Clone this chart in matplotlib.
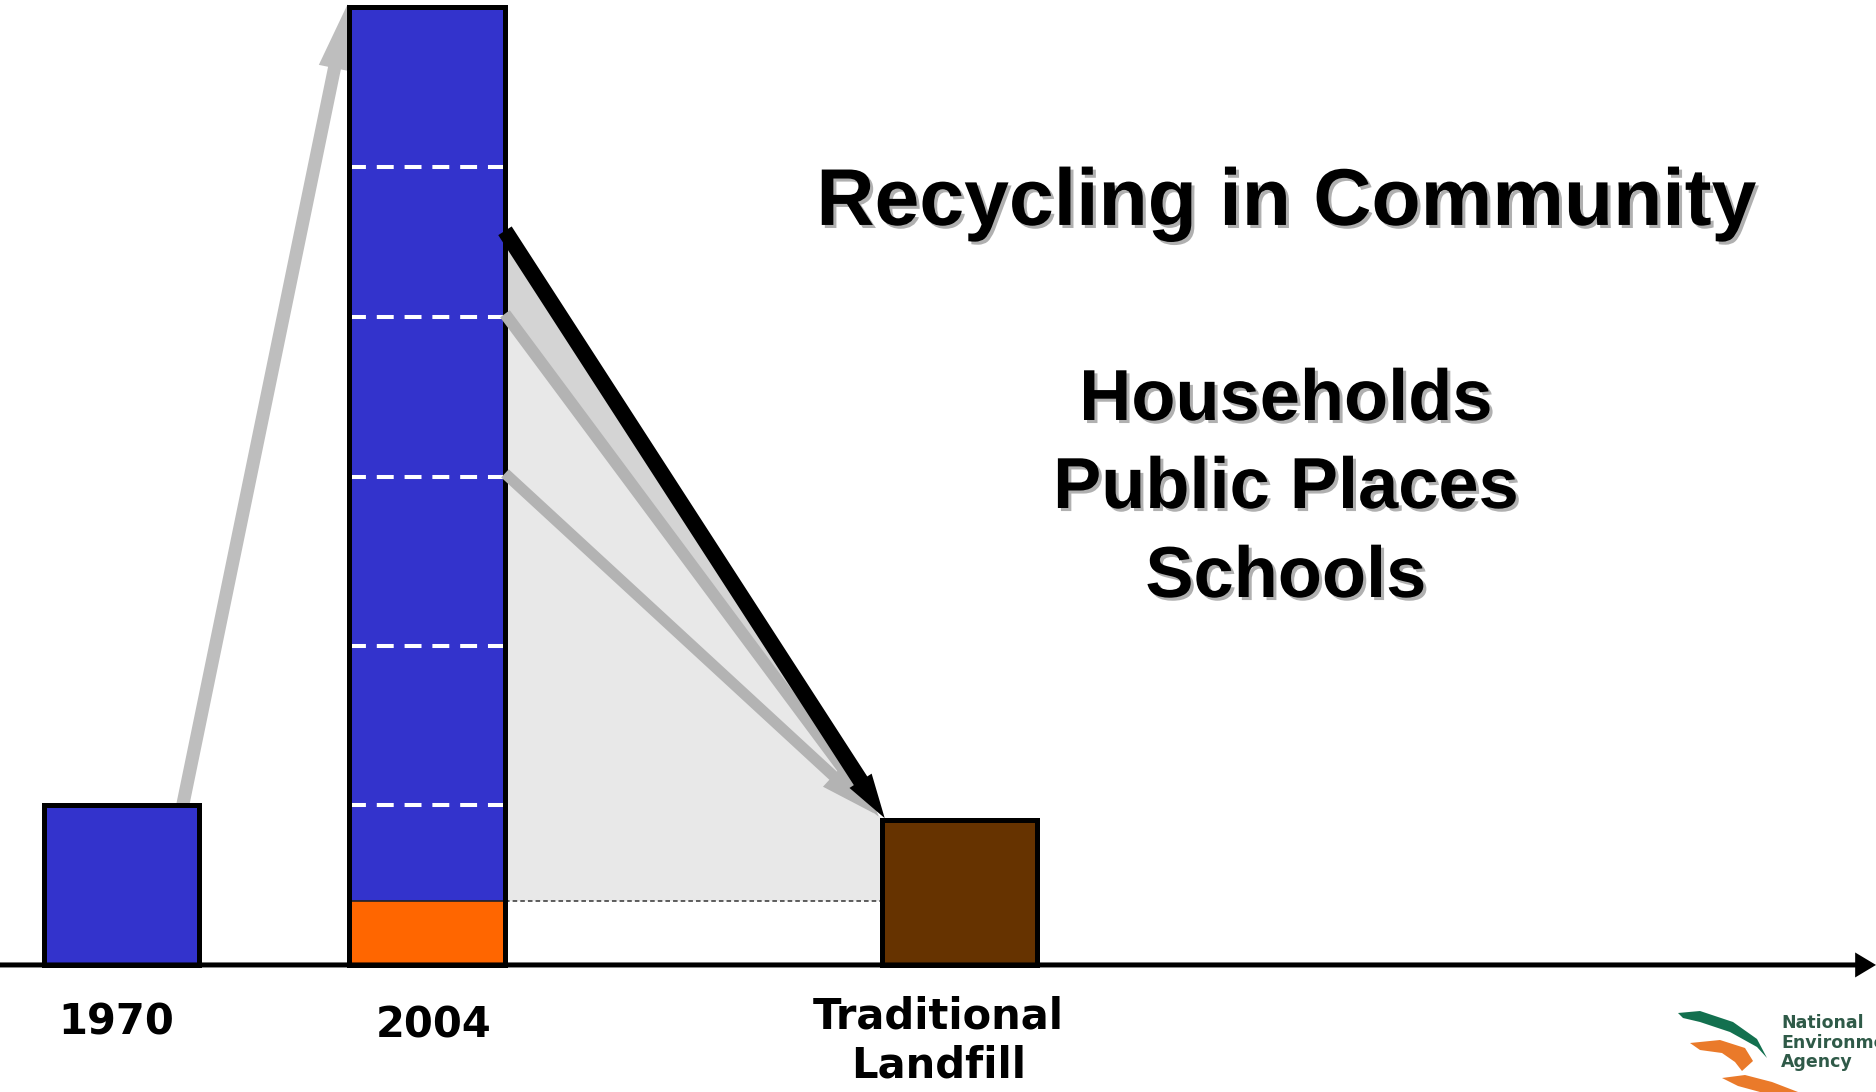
import matplotlib
matplotlib.use("Agg")
import matplotlib.pyplot as plt
import matplotlib.patheffects as pe

# data (waste amounts in "1970 units")
categories = ["1970", "2004", "Traditional\nLandfill"]
waste_amount = [1.0, 6.0, 0.91]
recycled_2004 = 0.4           # orange slice at the bottom of the 2004 bar
tier_levels = [1.0, 2.0, 3.06, 4.06, 5.0]  # white dashed lines in the 2004 bar
bar_colors = ["#3333cc", "#3333cc", "#663300"]
recycle_color = "#ff6600"

title = "Recycling in Community"
sources = ["Households", "Public Places", "Schools"]
logo_lines = ["National", "Environment", "Agency"]

# layout
x_pos = [0.0, 1.0, 2.743]
bar_w = 0.51
arrow_starts = [4.6, 4.08, 3.08]   # where the arrows leave the 2004 bar
label_dx = [-0.018, 0.02, -0.07]
label_y = [-0.36, -0.38, -0.475]

fig = plt.figure(figsize=(18.76, 10.92), dpi=100)
ax = fig.add_axes([0, 0, 1, 1])
ax.set_xlim(-0.398, 5.743)
ax.set_ylim(-0.796, 6.046)
ax.axis("off")

xr = x_pos[1] + bar_w / 2   # right edge of 2004 bar
xl = x_pos[2] - bar_w / 2   # left edge of landfill bar

# grey shading between 2004 and landfill
ax.fill([xr, xl, xl, xr], [arrow_starts[0], waste_amount[2], recycled_2004, recycled_2004],
        color="#e8e8e8", lw=0, zorder=1)
ax.fill([xr, xl, xr], [arrow_starts[0], waste_amount[2], arrow_starts[1]],
        color="#d4d4d4", lw=0, zorder=1)
ax.plot([xr, xl, xl], [recycled_2004, recycled_2004, waste_amount[2]],
        color="#333333", lw=1.1, ls=(0, (3.0, 2.0)), zorder=2)


def arrow(x0, y0, x1, y1, color, tail, hw, hl, z):
    style = "simple,head_length=%g,head_width=%g,tail_width=%g" % (hl, hw, tail)
    ax.annotate("", xy=(x1, y1), xytext=(x0, y0),
                arrowprops=dict(arrowstyle=style, color=color, mutation_scale=1,
                                shrinkA=0, shrinkB=0, lw=0),
                zorder=z)


# 1970 -> 2004 growth arrow
arrow(x_pos[0] + 0.2, waste_amount[0], x_pos[1] - bar_w / 2 - 0.005, waste_amount[1] + 0.02,
      "#bebebe", 9.4, 23, 47, 2)

# bars
ax.bar(x_pos[0], waste_amount[0], bar_w, color=bar_colors[0], edgecolor="black", lw=3.6, zorder=3)
ax.bar(x_pos[1], recycled_2004, bar_w, color=recycle_color, lw=0, zorder=3)
ax.bar(x_pos[1], waste_amount[1] - recycled_2004, bar_w, bottom=recycled_2004,
       color=bar_colors[1], lw=0, zorder=3)
ax.plot([x_pos[1] - bar_w / 2, xr], [recycled_2004, recycled_2004], color="#222222", lw=1.2, zorder=3.5)
ax.hlines(tier_levels, x_pos[1] - bar_w / 2, xr, colors="white", lw=2.9,
          linestyles=[(0, (4.2, 2.7))], zorder=3.6)
ax.bar(x_pos[1], waste_amount[1], bar_w, fill=False, edgecolor="black", lw=3.6, zorder=3.7)
ax.bar(x_pos[2], waste_amount[2], bar_w, color=bar_colors[2], edgecolor="black", lw=3.6, zorder=3)

# arrows from 2004 into landfill
arrow(xr, arrow_starts[2], xl - 0.025, waste_amount[2] + 0.04, "#b3b3b3", 8.0, 21.6, 40, 4)
arrow(xr, arrow_starts[1], xl - 0.01, waste_amount[2] + 0.02, "#b3b3b3", 8.6, 21.6, 36, 4)
arrow(xr, arrow_starts[0], xl + 0.01, waste_amount[2] + 0.01, "black", 11.5, 19, 32, 4.5)

# base axis line with arrow
arrow(-0.398, 0, 5.743, 0, "black", 3.6, 18, 15, 5)

# category labels
for i, lab in enumerate(categories):
    ax.text(x_pos[i] + label_dx[i], label_y[i], lab, ha="center", va="center",
            fontsize=30, fontweight="bold", family="DejaVu Sans", linespacing=1.2)

# headings with drop shadow
shadow = [pe.SimplePatchShadow(offset=(2.2, -2.2), shadow_rgbFace="#b0b0b0", alpha=1.0), pe.Normal()]
fig.text(0.6855, 0.794, title, ha="center", va="baseline", fontsize=58,
         fontweight="bold", family="Liberation Sans", path_effects=shadow)
for yy, s in zip([0.6154, 0.5348, 0.4533], sources):
    fig.text(0.6855, yy, s, ha="center", va="baseline", fontsize=52,
             fontweight="bold", family="Liberation Sans", path_effects=shadow)

# agency logo (bottom right, cut by the edge as in the slide)
lg = fig.add_axes([0, 0, 1, 1], zorder=10)
lg.set_xlim(0, 1876)
lg.set_ylim(1092, 0)
lg.axis("off")
lg.patch.set_alpha(0)
lg.fill([1678, 1700, 1733, 1757, 1767, 1757, 1730, 1700, 1683],
        [1013, 1011, 1022, 1039, 1058, 1047, 1032, 1022, 1018], color="#13704f", lw=0)
lg.fill([1690, 1720, 1745, 1753, 1742, 1735, 1722, 1700],
        [1043, 1040, 1048, 1061, 1071, 1062, 1053, 1050], color="#ea7a2a", lw=0)
lg.fill([1722, 1745, 1772, 1798, 1760, 1738],
        [1078, 1075, 1082, 1092, 1092, 1086], color="#ea7a2a", lw=0)
for yy, s in zip([1028, 1048, 1067], logo_lines):
    lg.text(1781, yy, s, ha="left", va="baseline", fontsize=12.5, fontweight="bold",
            color="#2f5a48", family="DejaVu Sans")

fig.savefig("out.png", dpi=100)
